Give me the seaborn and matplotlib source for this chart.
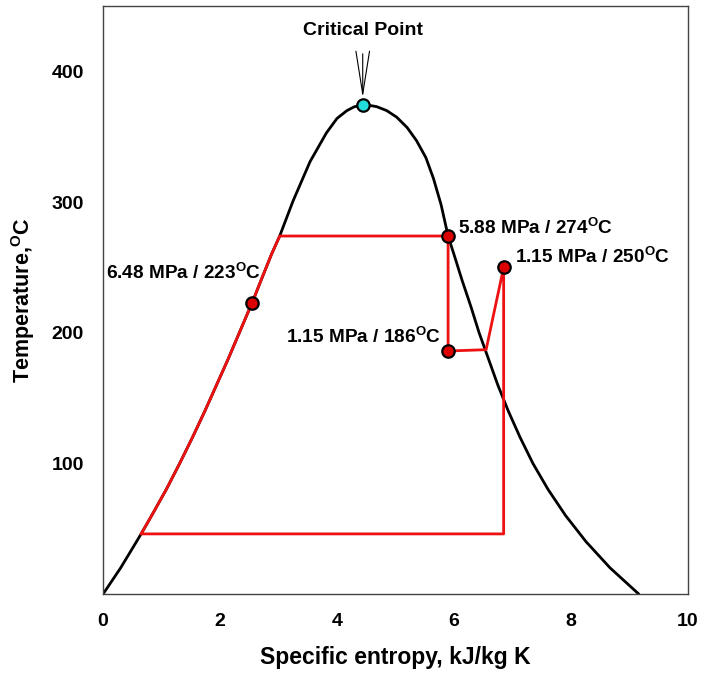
import seaborn as sns
import numpy as np
import pandas as pd
import matplotlib.pyplot as plt

# saturation dome (liquid side then vapour side)
liq_s = [0.0, 0.30, 0.57, 0.65, 0.83, 1.08, 1.31, 1.53, 1.74, 1.94, 2.14, 2.33, 2.52, 2.55, 2.70, 2.88, 3.02, 3.25, 3.54, 3.82, 4.00, 4.17, 4.30, 4.44]
liq_T = [0, 20, 40, 46, 60, 80, 100, 120, 140, 160, 180, 200, 220, 223, 240, 260, 274, 301, 331, 353, 364, 370, 373, 374]
vap_s = [4.44, 4.58, 4.68, 4.85, 5.02, 5.20, 5.36, 5.52, 5.65, 5.78, 5.90, 6.00, 6.14, 6.29, 6.43, 6.59, 6.75, 6.93, 7.13, 7.35, 7.61, 7.91, 8.26, 8.67, 9.16]
vap_T = [374, 373.8, 373, 370, 365, 357, 347, 334, 318, 298, 274, 260, 240, 220, 200, 180, 160, 140, 120, 100, 80, 60, 40, 20, 0]

# red cycle path
cyc_s = liq_s[3:17] + [5.90, 5.90, 6.55, 6.85, 6.85, 0.65]
cyc_T = liq_T[3:17] + [274, 186, 187, 250, 46, 46]

# state points
pt_s = [2.55, 5.90, 5.90, 6.85]
pt_T = [223, 274, 186, 250]
crit_s, crit_T = 4.44, 374

sns.set_style('white')
plt.rcParams['font.family'] = ['Liberation Sans', 'DejaVu Sans']
plt.rcParams['font.weight'] = 'bold'
plt.rcParams['text.color'] = 'black'
plt.rcParams['axes.labelcolor'] = 'black'
plt.rcParams['mathtext.fontset'] = 'custom'
plt.rcParams['mathtext.rm'] = 'Liberation Sans:bold'
plt.rcParams['mathtext.it'] = 'Liberation Sans:bold'
plt.rcParams['mathtext.bf'] = 'Liberation Sans:bold'

fig = plt.figure(figsize=(7.21, 6.75), dpi=100)
ax = fig.add_axes([0.143, 0.12, 0.811, 0.871])

dome = pd.DataFrame({'s': liq_s + vap_s, 'T': liq_T + vap_T})
sns.lineplot(data=dome, x='s', y='T', sort=False, estimator=None, color='black', lw=2, ax=ax)
cyc = pd.DataFrame({'s': cyc_s, 'T': cyc_T})
sns.lineplot(data=cyc, x='s', y='T', sort=False, estimator=None, color='#ee1111', lw=2, ax=ax)
sns.scatterplot(x=pt_s, y=pt_T, color='#dd0000', edgecolor='black', linewidth=1.6, s=80, zorder=5, ax=ax)
sns.scatterplot(x=[crit_s], y=[crit_T], color='#22dddd', edgecolor='black', linewidth=1.6, s=80, zorder=5, ax=ax)

ax.annotate('Critical Point', xy=(crit_s, crit_T + 6), xytext=(crit_s, 431),
            ha='center', va='center', fontsize=14, fontweight='bold', color='black',
            arrowprops=dict(arrowstyle='->,head_length=2.2,head_width=0.35', color='black', lw=0.8,
                            shrinkA=8, shrinkB=0))

lab = dict(fontsize=13.7, fontweight='bold', va='center', color='black')
ax.text(6.07, 280, r'5.88 MPa / 274$^{\rm O}$C', ha='left', **lab)
ax.text(7.04, 258, r'1.15 MPa / 250$^{\rm O}$C', ha='left', **lab)
ax.text(5.78, 197, r'1.15 MPa / 186$^{\rm O}$C', ha='right', **lab)
ax.text(0.05, 246, r'6.48 MPa / 223$^{\rm O}$C', ha='left', **lab)

ax.set_xlim(0, 10)
ax.set_ylim(0, 450)
ax.set_xticks([0, 2, 4, 6, 8, 10])
ax.set_yticks([100, 200, 300, 400])
ax.tick_params(direction='in', length=5, width=1, colors='#444444', labelcolor='black',
               labelsize=14, pad=14)
for t in ax.get_xticklabels() + ax.get_yticklabels():
    t.set_fontweight('bold')
for sp in ax.spines.values():
    sp.set_color('#444444')
    sp.set_linewidth(1)
ax.set_xlabel('Specific entropy, kJ/kg K', fontsize=16.5, fontweight='bold', labelpad=11)
ax.set_ylabel(r'Temperature,$^{\rm O}$C', fontsize=15.5, fontweight='bold', labelpad=10)

fig.savefig('out.png', dpi=100)
